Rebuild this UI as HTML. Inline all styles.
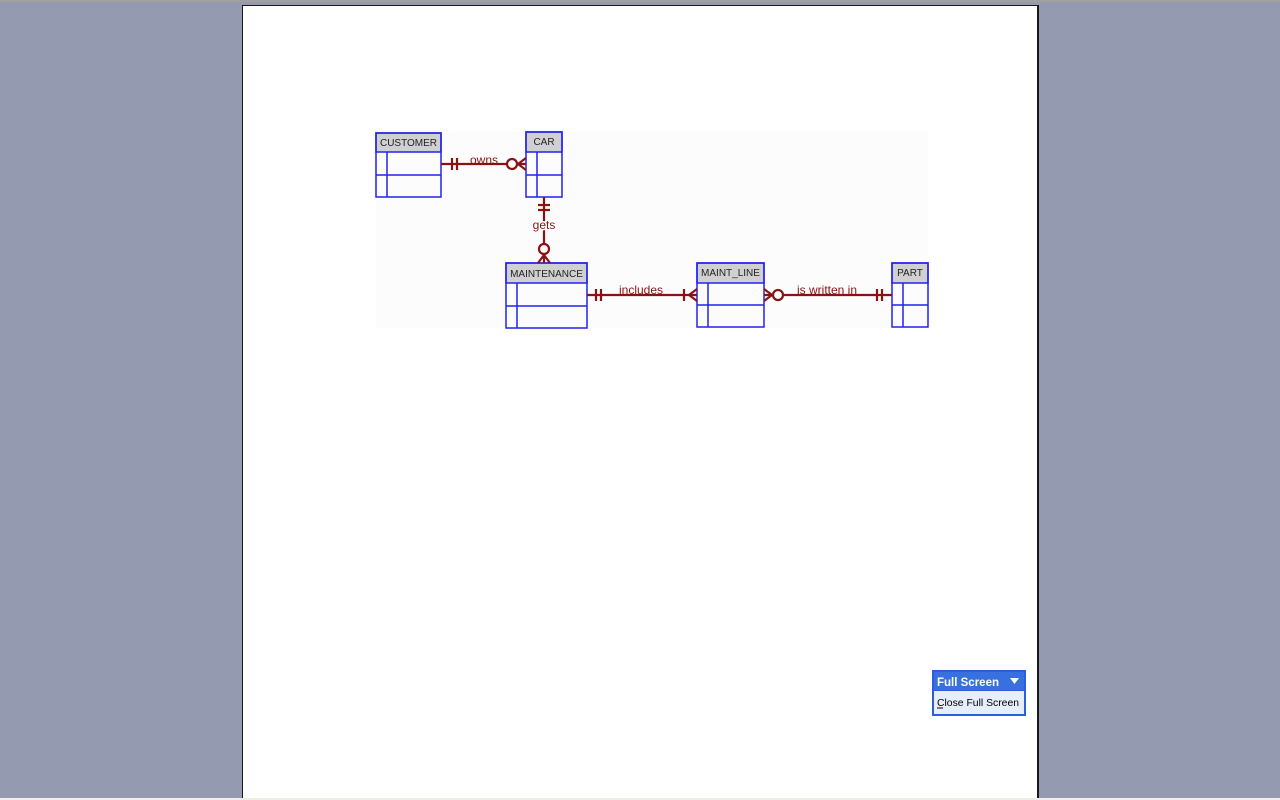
<!DOCTYPE html>
<html><head><meta charset="utf-8"><style>
html,body{margin:0;padding:0;width:1280px;height:800px;overflow:hidden;background:#949bb1;}
svg{display:block}
text{font-family:"Liberation Sans",Arial,sans-serif}
</style></head><body>
<svg width="1280" height="800" xmlns="http://www.w3.org/2000/svg">
<rect x="0" y="0" width="1280" height="2" fill="#a0a0a0"/>
<rect x="242" y="5" width="797" height="795" fill="#1a1a1a"/>
<rect x="243" y="6" width="794" height="794" fill="#ffffff"/>
<rect x="0" y="798" width="1280" height="2" fill="#f0efe6"/>
<rect x="376" y="130" width="552" height="198" fill="#fcfcfc"/>
<g stroke="#2222ee" stroke-width="1.5" fill="none">
 <rect x="376" y="133" width="65" height="19" fill="#d0d0d0"/>
 <rect x="376" y="133" width="65" height="64"/>
 <line x1="376" y1="175" x2="441" y2="175"/><line x1="387" y1="152" x2="387" y2="197"/>
 <rect x="526" y="132" width="36" height="20" fill="#d0d0d0"/>
 <rect x="526" y="132" width="36" height="65"/>
 <line x1="526" y1="175" x2="562" y2="175"/><line x1="537" y1="152" x2="537" y2="197"/>
 <rect x="506" y="263" width="81" height="20" fill="#d0d0d0"/>
 <rect x="506" y="263" width="81" height="65"/>
 <line x1="506" y1="306" x2="587" y2="306"/><line x1="517" y1="283" x2="517" y2="328"/>
 <rect x="697" y="263" width="67" height="20" fill="#d0d0d0"/>
 <rect x="697" y="263" width="67" height="64"/>
 <line x1="697" y1="305" x2="764" y2="305"/><line x1="708" y1="283" x2="708" y2="327"/>
 <rect x="892" y="263" width="36" height="20" fill="#d0d0d0"/>
 <rect x="892" y="263" width="36" height="64"/>
 <line x1="892" y1="305" x2="928" y2="305"/><line x1="903" y1="283" x2="903" y2="327"/>
</g>
<g font-size="10" fill="#222">
 <text x="408.5" y="146" text-anchor="middle">CUSTOMER</text>
 <text x="544" y="145" text-anchor="middle">CAR</text>
 <text x="546.5" y="277" text-anchor="middle">MAINTENANCE</text>
 <text x="730.5" y="276" text-anchor="middle">MAINT_LINE</text>
 <text x="910" y="276" text-anchor="middle">PART</text>
</g>
<g stroke="#8b1212" stroke-width="2.2" fill="none">
 <line x1="441" y1="164" x2="526" y2="164"/>
 <line x1="452" y1="158" x2="452" y2="170"/><line x1="457" y1="158" x2="457" y2="170"/>
 <circle cx="512" cy="164" r="5" fill="#fff"/>
 <path d="M526 158 L518 164 L526 170"/>
 <line x1="544" y1="197" x2="544" y2="263"/>
 <line x1="538" y1="205" x2="550" y2="205"/><line x1="538" y1="210" x2="550" y2="210"/>
 <circle cx="544" cy="249" r="5" fill="#fff"/>
 <path d="M538 263 L544 255 L550 263"/>
 <line x1="587" y1="295" x2="697" y2="295"/>
 <line x1="596" y1="289" x2="596" y2="301"/><line x1="601" y1="289" x2="601" y2="301"/>
 <line x1="684" y1="289" x2="684" y2="301"/>
 <path d="M697 289 L689 295 L697 301"/>
 <line x1="764" y1="295" x2="892" y2="295"/>
 <path d="M764 289 L772 295 L764 301"/>
 <circle cx="778" cy="295" r="5" fill="#fff"/>
 <line x1="877" y1="289" x2="877" y2="301"/><line x1="882" y1="289" x2="882" y2="301"/>
</g>
<g font-size="12" fill="#8b1212">
 <text x="484" y="164" text-anchor="middle">owns</text>
 <text x="544" y="229" text-anchor="middle" stroke="#fff" stroke-width="3" paint-order="stroke">gets</text>
 <text x="641" y="294" text-anchor="middle">includes</text>
 <text x="827" y="294" text-anchor="middle">is written in</text>
</g>
<rect x="932" y="670" width="94" height="46" fill="#2a5fd8"/>
<rect x="934" y="672" width="90" height="18" fill="#3870e0"/>
<rect x="934" y="691" width="90" height="23" fill="#e6eefc"/>
<text x="937" y="686" font-size="11.5" font-weight="bold" fill="#fff">Full Screen</text>
<path d="M1010 678 L1019 678 L1014.5 684 Z" fill="#fff"/>
<text x="937" y="706" font-size="10.4" fill="#000">Close Full Screen</text>
<line x1="937" y1="708" x2="943" y2="708" stroke="#000" stroke-width="1"/>
</svg>
</body></html>
